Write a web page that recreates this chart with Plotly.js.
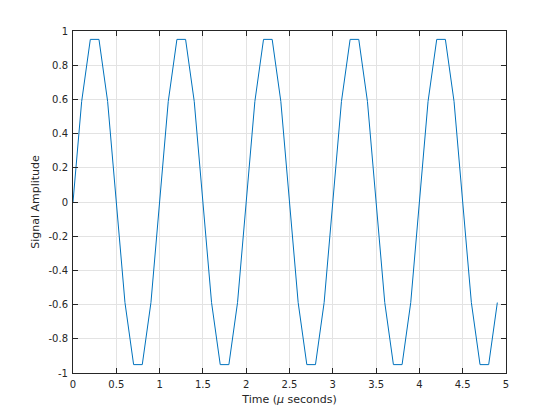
<!DOCTYPE html>
<html><head><meta charset="utf-8">
<script src="https://cdn.plot.ly/plotly-3.0.1.min.js"></script>
<style>html,body{margin:0;padding:0;background:#fff;}#plot{width:560px;height:420px;}</style>
</head><body><div id="plot"></div>
<script>
const time = [0,0.1,0.2,0.3,0.4,0.5,0.6,0.7,0.8,0.9,
  1,1.1,1.2,1.3,1.4,1.5,1.6,1.7,1.8,1.9,
  2,2.1,2.2,2.3,2.4,2.5,2.6,2.7,2.8,2.9,
  3,3.1,3.2,3.3,3.4,3.5,3.6,3.7,3.8,3.9,
  4,4.1,4.2,4.3,4.4,4.5,4.6,4.7,4.8,4.9];
const amplitude = [0,0.588,0.951,0.951,0.588,0,-0.588,-0.951,-0.951,-0.588,
  0,0.588,0.951,0.951,0.588,0,-0.588,-0.951,-0.951,-0.588,
  0,0.588,0.951,0.951,0.588,0,-0.588,-0.951,-0.951,-0.588,
  0,0.588,0.951,0.951,0.588,0,-0.588,-0.951,-0.951,-0.588,
  0,0.588,0.951,0.951,0.588,0,-0.588,-0.951,-0.951,-0.588];
const xTicks = [0,0.5,1,1.5,2,2.5,3,3.5,4,4.5,5];
const xTickLabels = ['0','0.5','1','1.5','2','2.5','3','3.5','4','4.5','5'];
const yTicks = [-1,-0.8,-0.6,-0.4,-0.2,0,0.2,0.4,0.6,0.8,1];
const yTickLabels = ['-1','-0.8','-0.6','-0.4','-0.2','0','0.2','0.4','0.6','0.8','1'];

const axisCommon = {
  showline: true, linecolor: '#262626', linewidth: 1, mirror: 'ticks',
  ticks: 'inside', ticklen: 5, tickwidth: 1, tickcolor: '#262626',
  showgrid: true, gridcolor: '#e3e3e3', gridwidth: 1, zeroline: false,
  tickfont: {family: 'DejaVu Sans, sans-serif', size: 10, color: '#262626'},
  tickmode: 'array'
};
const layout = {
  width: 560, height: 420,
  margin: {l: 73, r: 54, t: 31, b: 47},
  paper_bgcolor: '#ffffff', plot_bgcolor: '#ffffff',
  showlegend: false,
  xaxis: Object.assign({}, axisCommon, {
    range: [0, 5], tickvals: xTicks, ticktext: xTickLabels, ticklabelstandoff: 2,
    title: {text: 'Time (<i>μ</i> seconds)', standoff: 6,
      font: {family: 'DejaVu Sans, sans-serif', size: 11, color: '#262626'}}
  }),
  yaxis: Object.assign({}, axisCommon, {
    range: [-1, 1], tickvals: yTicks, ticktext: yTickLabels, ticklabelstandoff: 2,
    title: {text: 'Signal Amplitude', standoff: 6,
      font: {family: 'DejaVu Sans, sans-serif', size: 11, color: '#262626'}}
  })
};
Plotly.newPlot('plot', [{
  x: time, y: amplitude, type: 'scatter', mode: 'lines',
  line: {color: '#0072BD', width: 1}
}], layout, {displayModeBar: false, staticPlot: true});
</script></body></html>
